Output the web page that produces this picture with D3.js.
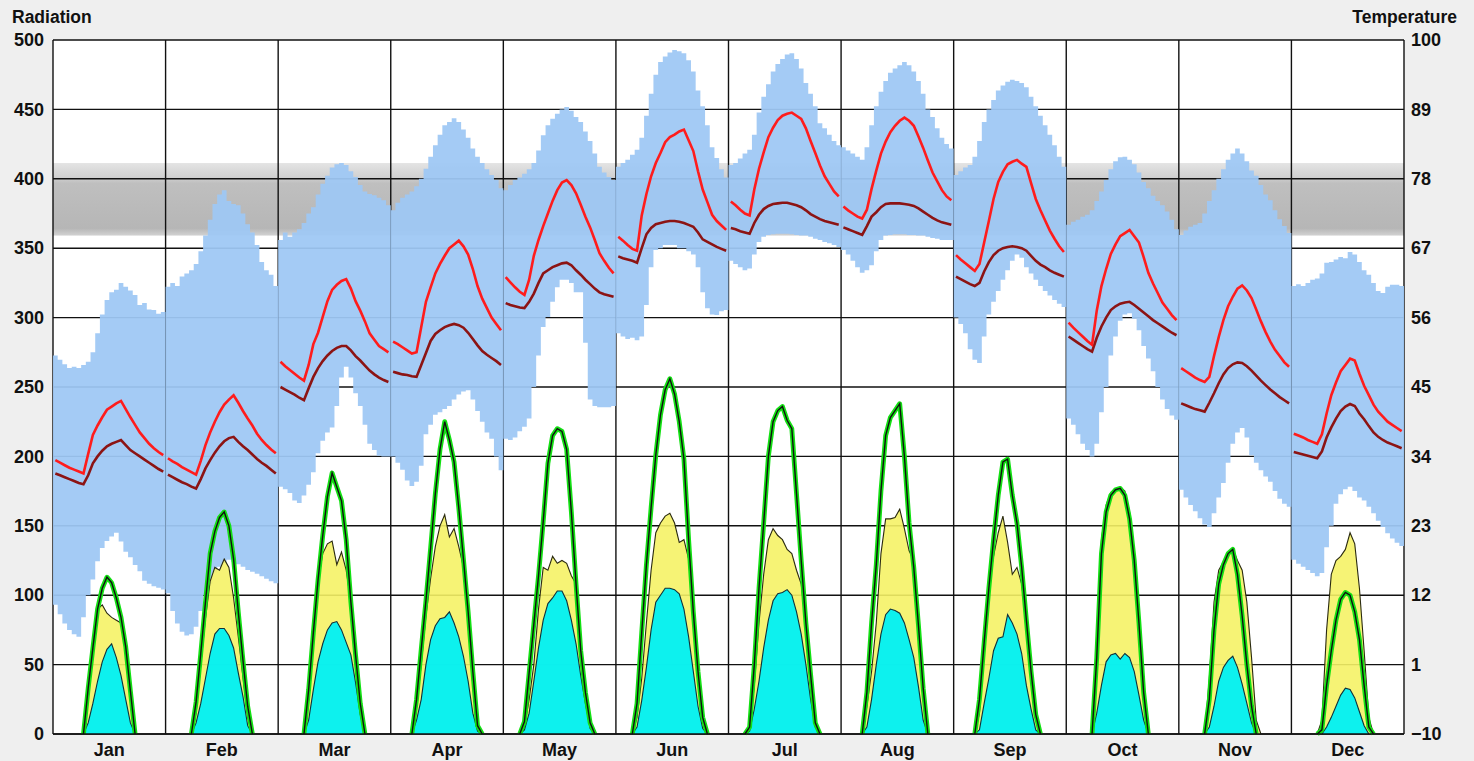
<!DOCTYPE html>
<html>
<head>
<meta charset="utf-8">
<script src="https://cdn.jsdelivr.net/npm/d3@7"></script>
<style>
body { margin: 0; background: #efefef; }
text { font-family: Arial, "Liberation Sans", sans-serif; font-weight: bold; }
</style>
</head>
<body>
<svg id="chart" width="1474" height="761"></svg>
<script>
var months = ["Jan","Feb","Mar","Apr","May","Jun","Jul","Aug","Sep","Oct","Nov","Dec"];
var radTicks = [0,50,100,150,200,250,300,350,400,450,500];
var tempTicks = [-10,1,12,23,34,45,56,67,78,89,100];
var comfortBand = [69, 80.5]; // comfort zone, temperature units

// hourly temperature range (max / min) per month
var tempHigh = [
  [50.0,49.3,48.6,48.0,48.2,48.0,48.5,49.0,50.5,53.5,56.5,58.8,60.0,60.4,61.5,60.9,60.3,59.6,58.0,58.3,57.3,57.2,56.6,56.9],
  [60.9,61.5,61.0,62.5,63.0,63.5,64.5,66.5,69.0,71.5,74.0,75.5,76.2,74.5,74.0,73.8,72.5,70.8,69.5,67.5,64.8,63.5,62.8,61.0],
  [68.3,69.5,68.8,69.5,70.0,71.0,72.5,73.5,75.5,77.2,78.5,79.8,80.3,80.5,80.2,79.2,78.3,77.0,76.0,75.6,75.4,75.0,74.6,73.8],
  [73.0,74.2,75.0,75.5,76.0,76.8,78.0,79.6,81.5,83.3,85.0,86.5,87.0,87.6,87.0,85.8,84.5,82.8,81.5,80.5,79.5,78.6,77.8,76.5],
  [76.2,77.0,77.8,78.2,78.8,79.5,80.5,82.5,84.9,86.5,87.5,88.3,89.0,89.4,88.8,87.8,87.0,85.5,84.0,82.0,79.9,79.0,78.3,77.8],
  [79.9,80.5,81.0,81.8,82.6,84.5,88.0,91.5,94.5,96.5,97.4,98.0,98.4,98.2,97.9,96.8,95.0,92.0,89.5,86.5,83.0,81.3,79.5,78.2],
  [80.2,80.5,81.2,82.0,82.6,85.0,88.5,91.0,93.0,95.0,96.2,97.0,97.7,97.9,97.0,95.5,93.2,91.5,89.5,86.8,86.0,85.0,84.0,83.3],
  [83.0,82.5,82.0,81.5,81.0,83.0,86.5,89.5,91.8,93.5,94.8,95.5,96.0,96.5,96.0,95.0,93.5,91.5,89.0,87.8,86.0,84.5,83.5,82.8],
  [78.6,79.2,79.8,80.2,81.5,84.0,87.0,89.0,90.5,92.0,92.8,93.4,93.7,93.5,93.2,92.5,91.0,89.5,88.0,86.5,85.0,83.3,81.5,79.9],
  [70.7,71.2,71.5,72.0,72.3,73.0,74.5,76.0,77.8,79.5,80.8,81.4,81.5,81.0,80.3,79.0,77.5,76.5,75.3,74.5,73.8,72.8,71.5,70.0],
  [69.1,69.8,70.4,70.7,71.0,72.5,74.5,76.2,78.0,79.5,81.0,82.0,82.8,82.0,80.8,79.3,78.5,77.0,75.5,74.6,73.0,71.6,70.5,69.4],
  [61.0,61.3,61.0,61.5,62.0,62.2,63.0,64.7,64.8,65.2,65.6,65.4,66.4,66.0,64.8,63.5,62.8,61.5,60.2,59.9,60.9,61.2,61.2,61.0]
];
var tempLow = [
  [10.5,9.0,7.5,6.5,5.8,5.4,8.5,12.0,14.5,17.4,19.5,20.6,21.3,21.9,20.5,18.9,18.0,16.8,15.8,14.3,13.8,13.4,13.2,12.9],
  [12.3,9.5,7.5,6.2,5.6,5.8,7.0,9.5,12.0,13.8,15.6,16.5,17.1,17.6,17.3,16.9,16.5,16.0,15.7,15.4,15.0,14.6,14.2,13.9],
  [29.2,28.8,28.2,27.0,26.6,27.8,29.5,31.5,34.5,36.5,37.8,38.6,42.0,46.5,48.2,46.5,44.0,42.0,39.0,36.0,35.0,34.1,34.0,34.0],
  [34.0,33.0,31.9,30.2,29.3,30.0,32.5,37.5,39.0,40.6,41.0,41.5,42.0,43.0,43.8,44.3,44.5,43.0,41.2,39.5,37.8,36.8,34.0,31.8],
  [36.8,36.6,37.0,38.0,38.7,40.0,45.0,50.0,54.5,56.1,58.5,60.8,62.0,62.0,61.5,60.0,60.0,52.0,43.0,42.0,41.8,41.8,41.8,42.0],
  [53.5,53.0,52.6,52.8,52.4,53.0,58.0,64.0,66.7,67.0,67.5,67.5,67.5,67.0,67.0,66.5,66.0,64.0,60.0,57.5,56.5,56.4,57.0,57.2],
  [65.0,64.5,64.0,63.5,63.8,66.0,68.0,68.8,69.1,69.2,69.3,69.3,69.3,69.2,69.1,69.0,69.0,68.8,68.5,68.3,68.0,67.8,67.5,67.2],
  [66.7,66.0,65.0,64.0,63.1,63.5,64.3,66.5,68.3,69.0,69.1,69.2,69.2,69.2,69.1,69.1,69.0,69.0,68.8,68.6,68.5,68.3,68.3,68.3],
  [56.0,55.0,53.5,51.0,49.3,48.8,53.0,56.5,58.5,60.2,62.0,63.5,65.0,66.0,65.5,64.0,63.0,62.0,61.0,60.2,59.5,58.8,58.2,57.7],
  [40.0,39.0,37.5,36.0,35.0,34.0,36.0,41.0,45.0,50.0,53.0,55.5,56.5,56.7,55.8,54.0,51.5,49.5,47.5,45.0,43.0,41.5,40.5,39.8],
  [28.7,27.5,26.3,25.3,24.2,23.2,22.8,25.0,27.5,29.8,33.0,36.0,37.8,38.5,37.0,34.2,33.0,31.8,30.8,30.0,28.5,27.3,26.5,26.0],
  [17.6,17.0,16.5,16.0,15.5,15.0,15.5,19.6,23.0,26.5,28.0,28.8,29.2,28.5,27.5,27.0,26.0,25.0,23.8,22.8,21.8,21.0,20.3,19.8]
];
// hourly average dry bulb (red) and wet bulb / dew point (dark red)
var dryBulb = [
  [33.4,33.0,32.6,32.2,31.9,31.6,31.3,34.4,37.4,38.9,40.2,41.4,41.9,42.4,42.8,41.5,40.2,39.0,37.8,36.9,36.0,35.3,34.7,34.2],
  [33.7,33.2,32.8,32.3,31.9,31.5,31.1,33.3,35.8,37.8,39.5,41.0,42.2,43.0,43.7,42.5,41.2,40.0,38.9,37.6,36.6,35.8,35.1,34.5],
  [49.0,48.3,47.7,47.1,46.5,46.0,48.5,51.8,53.6,56.1,58.6,60.4,61.2,61.8,62.1,60.6,58.6,57.1,55.4,53.5,52.5,51.5,51.0,50.5],
  [52.2,51.8,51.3,50.8,50.3,50.5,54.5,58.5,60.8,63.0,64.5,65.8,67.0,67.6,68.2,67.3,66.0,63.7,61.0,59.0,57.5,56.0,55.0,54.0],
  [62.4,61.6,60.8,60.1,59.6,62.0,65.8,68.3,70.5,72.5,74.5,76.2,77.4,77.8,77.0,75.7,73.9,72.0,70.3,68.3,66.2,65.0,63.9,63.0],
  [68.8,68.2,67.5,66.9,66.6,72.2,75.6,78.4,80.5,82.1,83.8,84.6,85.0,85.5,85.8,84.1,82.4,79.2,76.3,74.3,72.3,71.3,70.6,69.9],
  [74.4,73.8,73.1,72.5,72.2,76.3,79.6,82.2,84.6,86.1,87.3,88.0,88.3,88.5,88.0,87.5,86.0,84.0,82.1,80.1,78.4,77.2,76.0,75.2],
  [73.6,73.0,72.5,72.0,71.7,73.1,76.4,79.3,82.0,83.9,85.4,86.4,87.2,87.7,87.2,86.4,84.7,82.9,80.9,79.0,77.6,76.2,75.2,74.6],
  [65.9,65.2,64.6,64.0,63.4,64.5,67.9,71.3,74.8,77.5,79.1,80.3,80.7,81.0,80.4,79.9,77.3,74.8,73.0,71.4,69.8,68.5,67.3,66.4],
  [55.2,54.4,53.7,53.0,52.3,51.7,57.1,61.0,63.7,66.1,67.6,68.9,69.4,69.9,68.9,67.9,65.6,63.1,61.4,59.9,58.4,57.4,56.4,55.6],
  [48.0,47.5,47.0,46.5,46.1,45.8,46.6,49.9,52.9,55.6,57.8,59.3,60.6,61.1,60.3,59.1,57.3,55.4,53.7,52.2,50.9,49.9,48.9,48.2],
  [37.6,37.3,37.0,36.6,36.3,36.0,37.5,40.8,43.7,45.7,47.5,48.5,49.5,49.2,47.1,45.2,43.7,42.2,41.1,40.3,39.5,39.0,38.5,38.0]
];
var wetBulb = [
  [31.3,31.0,30.7,30.4,30.1,29.8,29.6,31.0,32.9,34.0,34.9,35.6,36.0,36.3,36.6,35.8,35.0,34.5,34.0,33.5,33.0,32.5,32.0,31.6],
  [31.1,30.7,30.3,29.9,29.6,29.2,28.9,30.4,32.1,33.4,34.6,35.6,36.4,36.9,37.1,36.3,35.6,35.0,34.3,33.6,33.0,32.5,31.9,31.3],
  [45.0,44.6,44.2,43.8,43.3,42.9,44.8,46.6,48.0,49.1,50.0,50.7,51.2,51.5,51.5,50.8,49.9,49.2,48.4,47.6,47.0,46.5,46.1,45.8],
  [47.4,47.2,47.0,46.9,46.7,46.6,48.5,50.4,52.3,53.4,54.0,54.5,54.8,55.0,54.8,54.4,53.6,52.6,51.6,50.7,50.1,49.6,49.1,48.5],
  [58.3,58.0,57.8,57.6,57.5,58.5,59.8,61.5,63.0,63.5,64.0,64.3,64.6,64.7,64.3,63.5,62.8,62.0,61.3,60.6,60.0,59.7,59.5,59.3],
  [65.7,65.4,65.2,65.0,64.7,67.0,69.2,70.2,70.8,71.0,71.2,71.3,71.3,71.2,71.0,70.7,70.4,69.5,68.4,68.0,67.6,67.2,66.9,66.6],
  [70.2,70.0,69.7,69.5,69.3,71.0,72.3,73.2,73.7,74.0,74.1,74.2,74.2,74.0,73.8,73.5,73.0,72.4,72.0,71.6,71.3,71.1,70.9,70.7],
  [70.3,70.0,69.7,69.4,69.1,70.5,72.0,72.7,73.5,74.0,74.1,74.1,74.1,74.0,73.9,73.7,73.3,72.8,72.3,71.8,71.4,71.1,70.9,70.7],
  [62.5,62.1,61.7,61.3,61.0,61.5,63.3,64.8,65.9,66.6,67.0,67.2,67.3,67.2,67.0,66.6,65.8,65.0,64.4,64.0,63.5,63.1,62.8,62.5],
  [53.0,52.5,52.0,51.5,51.0,50.6,52.8,54.6,56.0,57.2,57.8,58.2,58.4,58.5,58.0,57.4,56.8,56.2,55.6,55.1,54.6,54.1,53.6,53.2],
  [42.4,42.1,41.8,41.5,41.3,41.1,42.5,44.0,45.6,47.0,48.0,48.6,48.9,48.8,48.3,47.6,46.8,46.0,45.3,44.6,44.0,43.4,42.9,42.4],
  [34.7,34.5,34.3,34.1,33.9,33.7,34.8,37.0,38.6,40.0,41.2,41.9,42.3,42.0,40.8,39.9,38.8,37.8,37.1,36.6,36.2,35.9,35.6,35.3]
];
// hourly radiation: max total (green), avg global (yellow), avg diffuse (cyan)
var radMax = [
  [0,0,0,0,0,0,0,33,62,90,105,113,109,98,84,63,31,0,0,0,0,0,0,0],
  [0,0,0,0,0,0,23,58,95,130,146,156,160,150,126,88,53,20,0,0,0,0,0,0],
  [0,0,0,0,0,0,32,73,111,143,171,188,178,168,140,95,57,22,0,0,0,0,0,0],
  [0,0,0,0,0,25,61,96,134,173,205,225,212,196,163,126,88,45,6,0,0,0,0,0],
  [0,0,0,0,9,44,79,114,153,195,215,220,218,205,160,108,60,30,8,0,0,0,0,0],
  [0,0,0,0,22,73,122,163,201,230,248,256,245,225,198,140,88,45,12,0,0,0,0,0],
  [0,0,0,0,5,50,105,152,200,225,233,236,226,220,173,125,80,43,8,0,0,0,0,0],
  [0,0,0,0,0,30,80,122,175,215,228,233,238,200,152,120,78,33,0,0,0,0,0,0],
  [0,0,0,0,0,25,66,105,140,172,196,198,172,152,120,82,45,14,0,0,0,0,0,0],
  [0,0,0,0,0,0,55,130,160,172,176,177,172,155,125,80,30,0,0,0,0,0,0,0],
  [0,0,0,0,0,0,25,75,108,122,130,133,115,85,50,20,0,0,0,0,0,0,0,0],
  [0,0,0,0,0,0,3,35,60,82,97,102,100,88,68,35,5,0,0,0,0,0,0,0]
];
var radGlobal = [
  [0,0,0,0,0,0,0,30,62,90,93,87,84,82,80,62,30,0,0,0,0,0,0,0],
  [0,0,0,0,0,0,15,50,83,110,120,118,126,120,98,70,41,12,0,0,0,0,0,0],
  [0,0,0,0,0,0,25,65,110,130,137,139,122,131,118,95,60,20,0,0,0,0,0,0],
  [0,0,0,0,0,20,50,85,112,135,150,158,142,148,135,120,80,35,4,0,0,0,0,0],
  [0,0,0,0,5,25,50,90,120,118,128,123,125,123,114,108,60,28,6,0,0,0,0,0],
  [0,0,0,0,12,40,80,118,145,152,157,159,152,138,140,126,86,44,10,0,0,0,0,0],
  [0,0,0,0,3,35,80,115,140,148,143,140,133,130,118,108,78,42,8,0,0,0,0,0],
  [0,0,0,0,0,20,45,80,130,155,155,156,162,148,132,125,78,30,0,0,0,0,0,0],
  [0,0,0,0,0,15,60,108,128,145,157,138,115,120,108,80,45,12,0,0,0,0,0,0],
  [0,0,0,0,0,0,70,140,165,174,176,178,175,160,130,85,35,0,0,0,0,0,0,0],
  [0,0,0,0,0,0,40,95,118,124,128,134,125,118,95,55,10,0,0,0,0,0,0,0],
  [0,0,0,0,0,0,10,75,115,125,128,133,145,137,105,60,12,0,0,0,0,0,0,0]
];
var radDiffuse = [
  [0,0,0,0,0,0,0,8,22,38,52,61,65,55,42,25,8,0,0,0,0,0,0,0],
  [0,0,0,0,0,0,8,22,40,58,72,76,76,71,62,44,27,6,0,0,0,0,0,0],
  [0,0,0,0,0,0,10,32,52,65,75,80,81,75,66,57,37,14,0,0,0,0,0,0],
  [0,0,0,0,0,10,25,50,68,78,83,84,88,80,70,56,38,15,2,0,0,0,0,0],
  [0,0,0,0,3,15,38,62,82,94,98,103,103,96,82,65,42,22,4,0,0,0,0,0],
  [0,0,0,0,5,24,48,75,95,100,105,105,104,101,90,70,45,20,4,0,0,0,0,0],
  [0,0,0,0,2,18,38,62,82,96,101,102,104,100,88,72,50,25,5,0,0,0,0,0],
  [0,0,0,0,0,5,25,50,72,86,90,89,87,80,68,55,34,10,0,0,0,0,0,0],
  [0,0,0,0,0,3,22,40,60,69,70,86,80,72,58,35,18,3,0,0,0,0,0,0],
  [0,0,0,0,0,0,15,35,52,57,58,54,58,55,45,28,10,0,0,0,0,0,0,0],
  [0,0,0,0,0,0,5,20,38,48,53,56,48,36,22,8,0,0,0,0,0,0,0,0],
  [0,0,0,0,0,0,0,5,12,20,28,33,32,26,16,6,0,0,0,0,0,0,0,0]
];

var plot = {left: 53, right: 1404, top: 40, bottom: 734};
var svg = d3.select("#chart");

var x = d3.scaleBand().domain(months).range([plot.left, plot.right]);
var hour = d3.scaleBand().domain(d3.range(24)).range([0, x.bandwidth()]);
var yRad = d3.scaleLinear().domain([0, 500]).range([plot.bottom, plot.top]);
var yTemp = d3.scaleLinear().domain([-10, 100]).range([plot.bottom, plot.top]);

function hx(m, i) { return x(months[m]) + hour(i) + hour.bandwidth() / 2; }

svg.append("rect").attr("width", 1474).attr("height", 761).attr("fill", "#efefef");
svg.append("rect").attr("x", plot.left).attr("y", plot.top)
  .attr("width", plot.right - plot.left).attr("height", plot.bottom - plot.top).attr("fill", "#fff");

// comfort band
var grad = svg.append("defs").append("linearGradient").attr("id", "band")
  .attr("x1", 0).attr("y1", 0).attr("x2", 0).attr("y2", 1);
grad.append("stop").attr("offset", "0%").attr("stop-color", "#e4e4e4");
grad.append("stop").attr("offset", "20%").attr("stop-color", "#d0d0d0");
grad.append("stop").attr("offset", "28%").attr("stop-color", "#bfbfbf");
grad.append("stop").attr("offset", "90%").attr("stop-color", "#b6b6b6");
grad.append("stop").attr("offset", "100%").attr("stop-color", "#d2d2d2");
svg.append("rect").attr("x", plot.left).attr("y", yTemp(comfortBand[1]))
  .attr("width", plot.right - plot.left)
  .attr("height", yTemp(comfortBand[0]) - yTemp(comfortBand[1]))
  .attr("fill", "url(#band)");

// grid
var grid = svg.append("g").attr("stroke", "#111").attr("stroke-width", 1.4);
grid.selectAll("line.h").data(radTicks).enter().append("line").attr("class", "h")
  .attr("x1", plot.left).attr("x2", plot.right)
  .attr("y1", function(d) { return yRad(d); }).attr("y2", function(d) { return yRad(d); });
grid.selectAll("line.v").data(months.concat(["end"])).enter().append("line").attr("class", "v")
  .attr("x1", function(d) { return d == "end" ? plot.right : x(d); })
  .attr("x2", function(d) { return d == "end" ? plot.right : x(d); })
  .attr("y1", plot.top).attr("y2", plot.bottom);

// temperature range band (stepped, like the hourly bars of the original)
var rangeArea = d3.area()
  .curve(d3.curveStep)
  .x(function(d) { return d.x; })
  .y0(function(d) { return yTemp(d.lo); })
  .y1(function(d) { return yTemp(d.hi); });
months.forEach(function(mo, m) {
  var pts = tempHigh[m].map(function(v, i) { return {x: hx(m, i), hi: v, lo: tempLow[m][i]}; });
  pts.unshift({x: x(mo), hi: pts[0].hi, lo: pts[0].lo});
  pts.push({x: x(mo) + x.bandwidth(), hi: pts[pts.length - 1].hi, lo: pts[pts.length - 1].lo});
  svg.append("path").datum(pts).attr("d", rangeArea).attr("fill", "#9ec8f4").attr("fill-opacity", 0.94);
});

// radiation
function sunUp(arr) {
  var out = [];
  arr.forEach(function(v, i) {
    if (v > 0 || arr[i - 1] > 0 || arr[i + 1] > 0) out.push(i);
  });
  return out;
}
var radArea = d3.area().x(function(d) { return d.x; }).y0(yRad(0)).y1(function(d) { return yRad(d.v); });
var radLine = d3.line().x(function(d) { return d.x; }).y(function(d) { return yRad(d.v); });
function radPts(arr, m) {
  return sunUp(arr).map(function(i) { return {x: hx(m, i), v: arr[i]}; });
}
months.forEach(function(mo, m) {
  var g = radPts(radGlobal[m], m);
  svg.append("path").datum(g).attr("d", radArea).attr("fill", "#f5f266").attr("fill-opacity", 0.9);
  svg.append("path").datum(g).attr("d", radLine).attr("fill", "none").attr("stroke", "#2a2a10").attr("stroke-width", 1.1);
  var c = radPts(radDiffuse[m], m);
  svg.append("path").datum(c).attr("d", radArea).attr("fill", "#00f0f4").attr("fill-opacity", 0.95);
  svg.append("path").datum(c).attr("d", radLine).attr("fill", "none").attr("stroke", "#10303a").attr("stroke-width", 1.1);
  var t = radPts(radMax[m], m);
  svg.append("path").datum(t).attr("d", radLine).attr("fill", "none").attr("stroke", "#14e014").attr("stroke-width", 4.8).attr("stroke-linejoin", "round");
  svg.append("path").datum(t).attr("d", radLine).attr("fill", "none").attr("stroke", "#111").attr("stroke-width", 1.4);
});

svg.append("line").attr("x1", plot.left).attr("x2", plot.right)
  .attr("y1", plot.bottom).attr("y2", plot.bottom).attr("stroke", "#111").attr("stroke-width", 1.6);

// temperature lines
var tLine = d3.line().x(function(d) { return d.x; }).y(function(d) { return yTemp(d.v); });
months.forEach(function(mo, m) {
  var w = wetBulb[m].map(function(v, i) { return {x: hx(m, i), v: v}; });
  svg.append("path").datum(w).attr("d", tLine).attr("fill", "none").attr("stroke", "#8c1414").attr("stroke-width", 2.6);
  var d = dryBulb[m].map(function(v, i) { return {x: hx(m, i), v: v}; });
  svg.append("path").datum(d).attr("d", tLine).attr("fill", "none").attr("stroke", "#ff1c1c").attr("stroke-width", 2.6);
});

// axes
var gL = svg.append("g").attr("transform", "translate(" + plot.left + ",0)")
  .call(d3.axisLeft(yRad).tickValues(radTicks).tickSize(0).tickPadding(9));
var gR = svg.append("g").attr("transform", "translate(" + plot.right + ",0)")
  .call(d3.axisRight(yTemp).tickValues(tempTicks).tickSize(0).tickPadding(7));
[gL, gR].forEach(function(g) {
  g.select(".domain").remove();
  g.attr("font-size", 18).attr("font-family", "Arial, 'Liberation Sans', sans-serif");
  g.selectAll("text").attr("fill", "#111").attr("font-weight", "bold");
});

svg.selectAll("text.month").data(months).enter().append("text").attr("class", "month")
  .attr("x", function(d) { return x(d) + x.bandwidth() / 2; }).attr("y", 756)
  .attr("text-anchor", "middle").attr("font-size", 18).attr("fill", "#111")
  .text(function(d) { return d; });

svg.append("text").attr("x", 12).attr("y", 23).attr("font-size", 17.5).attr("fill", "#111").text("Radiation");
svg.append("text").attr("x", 1457).attr("y", 23).attr("text-anchor", "end").attr("font-size", 17.5).attr("fill", "#111").text("Temperature");
</script>
</body>
</html>
